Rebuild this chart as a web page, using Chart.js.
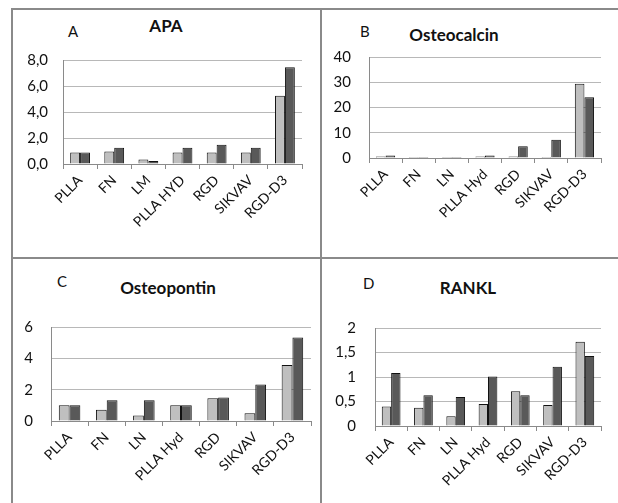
<!DOCTYPE html>
<html>
<head>
<meta charset="utf-8">
<script src="https://cdn.jsdelivr.net/npm/chart.js@4.4.1/dist/chart.umd.min.js"></script>
<style>
  body { margin: 0; background: #fff; width: 618px; height: 503px; overflow: hidden; position: relative; font-family: Lato, "Liberation Sans", sans-serif; }
  .line { position: absolute; background: #8a8a8a; }
  .box { position: absolute; }
  .letter { position: absolute; font-size: 15px; color: #111; }
  .title { position: absolute; font-size: 17px; font-weight: bold; color: #111; transform: translateX(-50%); white-space: nowrap; }
</style>
</head>
<body>
<div class="line" style="left:11px; top:8px; width:607px; height:2px;"></div>
<div class="line" style="left:11px; top:8px; width:2px; height:495px;"></div>
<div class="line" style="left:320px; top:8px; width:2px; height:495px;"></div>
<div class="line" style="left:11px; top:257px; width:607px; height:2px;"></div>

<div class="letter" style="left:68px; top:22px;">A</div>
<div class="title" style="left:166px; top:15px;">APA</div>
<div class="letter" style="left:360px; top:22px;">B</div>
<div class="title" style="left:454px; top:24px;">Osteocalcin</div>
<div class="letter" style="left:57px; top:272px;">C</div>
<div class="title" style="left:168px; top:277px;">Osteopontin</div>
<div class="letter" style="left:363px; top:274px;">D</div>
<div class="title" style="left:468px; top:277px;">RANKL</div>

<div class="box" id="boxA"><canvas id="chartA"></canvas></div>
<div class="box" id="boxB"><canvas id="chartB"></canvas></div>
<div class="box" id="boxC"><canvas id="chartC"></canvas></div>
<div class="box" id="boxD"><canvas id="chartD"></canvas></div>

<script>
// categories
const categoriesA = ['PLLA', 'FN', 'LM', 'PLLA HYD', 'RGD', 'SIKVAV', 'RGD-D3'];
const categories = ['PLLA', 'FN', 'LN', 'PLLA Hyd', 'RGD', 'SIKVAV', 'RGD-D3'];

// series values (light bar, dark bar)
const apaLight = [0.89, 0.96, 0.34, 0.89, 0.89, 0.89, 5.25];
const apaDark = [0.89, 1.25, 0.24, 1.25, 1.49, 1.25, 7.45];
const ocLight = [0.6, 0.36, 0.36, 0.6, 0.6, 0.36, 29.4];
const ocDark = [1.0, 0.36, 0.36, 1.0, 4.7, 7.2, 24.1];
const opnLight = [1.0, 0.72, 0.35, 1.0, 1.45, 0.5, 3.57];
const opnDark = [1.0, 1.33, 1.33, 1.0, 1.5, 2.33, 5.33];
const ranklLight = [0.40, 0.37, 0.20, 0.45, 0.71, 0.43, 1.72];
const ranklDark = [1.08, 0.63, 0.59, 1.01, 0.63, 1.21, 1.43];

// tick labels
const ticksA = ['0,0', '2,0', '4,0', '6,0', '8,0'];
const ticksB = ['0', '10', '20', '30', '40'];
const ticksC = ['0', '2', '4', '6'];
const ticksD = ['0', '0,5', '1', '1,5', '2'];

const LIGHT = '#bfbfbf';
const DARK = '#595959';
const FONT = 'Lato, "Liberation Sans", sans-serif';

// box = canvas rect, plot = wanted chart area (page px)
function makeChart(id, labels, light, dark, yMax, yStep, tickLabels, box, plot, tickPad) {
    const holder = document.getElementById('box' + id);
    holder.style.left = box.l + 'px';
    holder.style.top = box.t + 'px';
    holder.style.width = (box.r - box.l) + 'px';
    holder.style.height = (box.b - box.t) + 'px';

    const yWidth = plot.l - box.l;
    const xHeight = box.b - plot.b;

    new Chart(document.getElementById('chart' + id), {
        type: 'bar',
        data: {
            labels: labels,
            datasets: [
                { data: light, backgroundColor: LIGHT, borderColor: '#111', borderWidth: 1 },
                { data: dark, backgroundColor: DARK, borderColor: '#111', borderWidth: 1 }
            ]
        },
        options: {
            responsive: true,
            maintainAspectRatio: false,
            animation: false,
            layout: { padding: { left: 0, top: plot.t - box.t, right: box.r - plot.r, bottom: 0 } },
            plugins: { legend: { display: false }, tooltip: { enabled: false } },
            datasets: { bar: { categoryPercentage: 0.58, barPercentage: 1.0 } },
            scales: {
                x: {
                    afterFit: (s) => { s.height = xHeight; },
                    grid: { display: true, drawOnChartArea: false, drawTicks: true, tickLength: 5, offset: true, color: '#8a8a8a' },
                    border: { color: '#8a8a8a', width: 1 },
                    ticks: {
                        minRotation: 45, maxRotation: 45, autoSkip: false, padding: 3,
                        color: '#111', font: { family: FONT, size: 14 }
                    }
                },
                y: {
                    min: 0, max: yMax,
                    afterFit: (s) => { s.width = yWidth; },
                    grid: { color: '#b8b8b8', drawTicks: false, lineWidth: 1 },
                    border: { color: '#8a8a8a', width: 1 },
                    ticks: {
                        stepSize: yStep, padding: tickPad,
                        color: '#111', font: { family: FONT, size: 15 },
                        callback: (v, i) => tickLabels[i]
                    }
                }
            }
        }
    });
}

makeChart('A', categoriesA, apaLight, apaDark, 8, 2, ticksA,
    { l: 14, t: 36, r: 316, b: 252 }, { l: 63, t: 53, r: 302, b: 164 }, 15);
makeChart('B', categories, ocLight, ocDark, 40, 10, ticksB,
    { l: 324, t: 30, r: 613, b: 252 }, { l: 369, t: 47, r: 601, b: 158 }, 18);
makeChart('C', categories, opnLight, opnDark, 6, 2, ticksC,
    { l: 14, t: 300, r: 318, b: 500 }, { l: 51, t: 321, r: 311, b: 421 }, 18);
makeChart('D', categories, ranklLight, ranklDark, 2, 0.5, ticksD,
    { l: 324, t: 300, r: 613, b: 500 }, { l: 375, t: 325, r: 601, b: 426 }, 19);
</script>
</body>
</html>
